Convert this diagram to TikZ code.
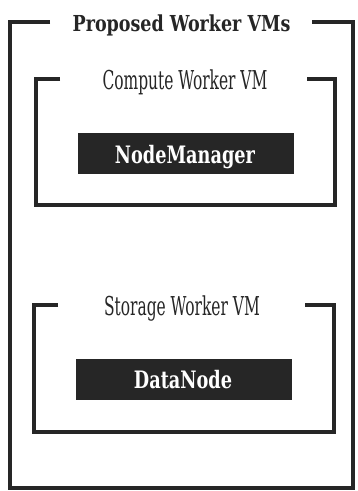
\documentclass[tikz,border=0pt]{standalone}
\usepackage{fontspec}
\setmainfont{DejaVu Serif Condensed}
\definecolor{ink}{HTML}{262626}
\tikzset{
  frame/.style={draw=ink, line width=4pt, line join=miter},
  frametitle/.style={anchor=base, inner sep=0pt, text=ink, font=\fontsize{22}{24}\selectfont\bfseries},
  vmtitle/.style={anchor=base, inner sep=0pt, text=ink, font=\fontsize{26}{28}\selectfont},
  procbox/.style={fill=ink, inner sep=0pt, minimum width=216pt, minimum height=41pt},
  proclabel/.style={anchor=base, inner sep=0pt, text=white, font=\fontsize{24}{26}\selectfont\bfseries}
}
\begin{document}
\begin{tikzpicture}[x=1pt, y=-1pt]
  \useasboundingbox (0,0) rectangle (357,491);
  \fill[white] (0,0) rectangle (357,491);

  % outer group frame
  \node[frametitle] (outer) at (181.5,31) {\scalebox{0.885}[1]{Proposed Worker VMs}};
  \draw[frame] (50,22) -- (10,22) -- (10,488) -- (353,488) -- (353,22) -- (312,22);

  % compute worker VM
  \node[vmtitle] (compute) at (185,89) {\scalebox{0.66}[1]{Compute Worker VM}};
  \draw[frame] (60,79) -- (36,79) -- (36,205) -- (335,205) -- (335,79) -- (307,79);
  \node[procbox] (nm) at (186,153.5) {};
  \node[proclabel] (nmlabel) at (185,163) {\scalebox{0.82}[1]{NodeManager}};

  % storage worker VM
  \node[vmtitle] (storage) at (182,315) {\scalebox{0.66}[1]{Storage Worker VM}};
  \draw[frame] (58,305) -- (34,305) -- (34,432) -- (334,432) -- (334,305) -- (305,305);
  \node[procbox] (dn) at (184,379.5) {};
  \node[proclabel] (dnlabel) at (183,388) {\scalebox{0.82}[1]{DataNode}};
\end{tikzpicture}
\end{document}
